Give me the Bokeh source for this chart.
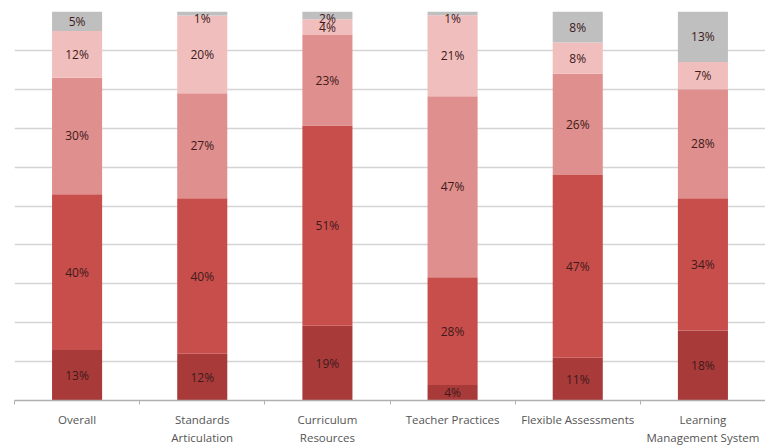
from bokeh.plotting import figure
from bokeh.models import ColumnDataSource, FixedTicker, Range1d
from bokeh.core.properties import value
from bokeh.embed import file_html
from bokeh.resources import INLINE

categories = ["Overall", "Standards\nArticulation", "Curriculum\nResources",
              "Teacher Practices", "Flexible Assessments", "Learning\nManagement System"]
seg1 = [13, 12, 19, 4, 11, 18]
seg2 = [40, 40, 51, 28, 47, 34]
seg3 = [30, 27, 23, 47, 26, 28]
seg4 = [12, 20, 4, 21, 8, 7]
seg5 = [5, 1, 2, 1, 8, 13]
series = [seg1, seg2, seg3, seg4, seg5]
colors = ["#a83a3a", "#c84e4b", "#df8f8d", "#f0bebd", "#bfbfbf"]

n = len(categories)
xs = [i + 0.5 for i in range(n)]
totals = [sum(s[i] for s in series) for i in range(n)]

p = figure(width=765, height=447, output_backend="svg", toolbar_location=None,
           x_range=Range1d(0, n), y_range=Range1d(0, 100),
           min_border_left=14, min_border_right=0, min_border_top=11, min_border_bottom=0)
p.outline_line_color = None
p.yaxis.visible = False
p.xgrid.visible = False
p.ygrid.ticker = FixedTicker(ticks=list(range(10, 101, 10)))
p.ygrid.grid_line_color = "#d4d4d4"
p.ygrid.grid_line_width = 1.5

lx, ly, lt = [], [], []
bottoms = [0.0] * n
for s, c in zip(series, colors):
    tops = [bottoms[i] + s[i] * 100.0 / totals[i] for i in range(n)]
    src = ColumnDataSource(dict(x=xs, b=bottoms, t=tops))
    p.vbar(x="x", bottom="b", top="t", width=0.4, source=src, fill_color=c, line_color=None)
    for i in range(n):
        lx.append(xs[i])
        ly.append(min((bottoms[i] + tops[i]) / 2, 98.3))
        lt.append(f"{s[i]}%")
    bottoms = tops

p.text(x=lx, y=ly, text=lt, text_align="center", text_baseline="middle",
       text_font=value("Open Sans"), text_font_size="12px", text_color="#3e1a1a")

p.xaxis.ticker = FixedTicker(ticks=xs, minor_ticks=list(range(0, n + 1)))
p.xaxis.major_label_overrides = {x: c for x, c in zip(xs, categories)}
p.xaxis.major_tick_line_color = None
p.xaxis.minor_tick_line_color = "#b0b0b0"
p.xaxis.minor_tick_out = 4
p.xaxis.minor_tick_in = 0
p.xaxis.axis_line_color = "#b0b0b0"
p.xaxis.axis_line_width = 1.5
p.xaxis.major_label_text_font = "Open Sans"
p.xaxis.major_label_text_font_size = "11.5px"
p.xaxis.major_label_text_color = "#555555"
p.xaxis.major_label_standoff = 5

open("out.html", "w").write(file_html(p, INLINE))
